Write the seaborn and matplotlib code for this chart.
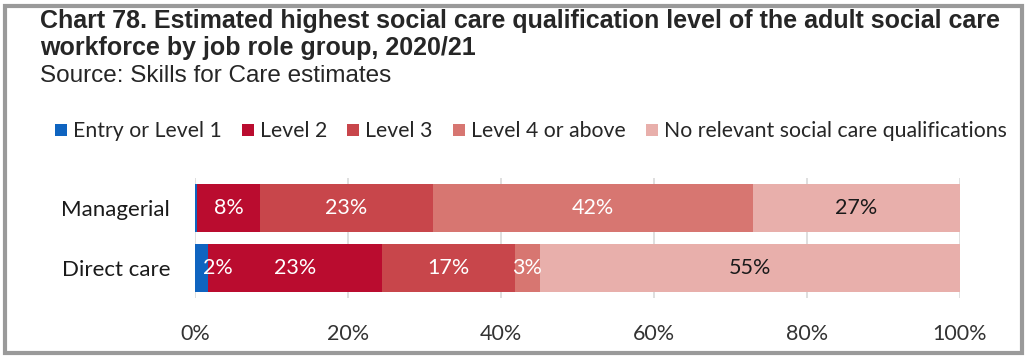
import matplotlib
matplotlib.use("Agg")
import matplotlib.pyplot as plt
import seaborn as sns
import numpy as np
import pandas as pd
from matplotlib.patches import Rectangle
from matplotlib.lines import Line2D

categories = ["Managerial", "Direct care"]
series_names = ["Entry or Level 1", "Level 2", "Level 3", "Level 4 or above",
                "No relevant social care qualifications"]
entry = [0.3, 1.7]
level2 = [8.2, 22.7]
level3 = [22.6, 17.4]
level4 = [41.8, 3.3]
no_qual = [27.1, 54.9]
tick_labels = ["0%", "20%", "40%", "60%", "80%", "100%"]

colors = ["#0F64C0", "#BA0C2F", "#C8464B", "#D77671", "#E8AFAB"]
text_colors = ["white", "white", "white", "white", "#1a1a1a"]

sns.set_theme(style="white")
plt.rcParams["font.family"] = ["Lato", "DejaVu Sans"]

fig = plt.figure(figsize=(10.34, 3.58), dpi=100)
ax = fig.add_axes([195 / 1034, 1 - 298 / 358, 765 / 1034, 120 / 358])

vals = np.array([entry, level2, level3, level4, no_qual])
cum = np.cumsum(vals, axis=0)

# draw from the largest cumulative to smallest so overlaps produce stacking
for i in range(len(series_names) - 1, -1, -1):
    df = pd.DataFrame({"cat": categories, "val": cum[i]})
    sns.barplot(data=df, y="cat", x="val", orient="h", color=colors[i],
                width=0.8, ax=ax, saturation=1, linewidth=0, zorder=3)

for i in range(len(series_names)):
    for j, c in enumerate(categories):
        v = vals[i, j]
        if round(v) < 1:
            continue
        start = cum[i, j] - v
        if v < 3:
            x, ha = start + 1.0, "left"
        else:
            x, ha = start + v / 2, "center"
        ax.text(x, j, f"{round(v):.0f}%", ha=ha, va="center",
                color=text_colors[i], fontsize=15.5, zorder=5)

ax.set_xlim(0, 100)
ax.set_ylim(1.5, -0.5)
ax.set_xticks([0, 20, 40, 60, 80, 100])
ax.set_xticklabels(tick_labels, fontsize=15.5, color="#333333")
ax.tick_params(axis="x", pad=19, length=0)
ax.tick_params(axis="y", length=0, pad=18, labelsize=16, labelcolor="#1a1a1a")
ax.set_xlabel("")
ax.set_ylabel("")
ax.grid(axis="x", color="#d9d9d9", linewidth=1.2, zorder=0)
for s in ax.spines.values():
    s.set_visible(False)
ax.set_axisbelow(True)

handles = [Line2D([0], [0], marker="s", linestyle="", markersize=9,
                  markerfacecolor=colors[i], markeredgewidth=0) for i in range(5)]
fig.legend(handles, series_names, loc="center", bbox_to_anchor=(529 / 1034, 1 - 131 / 358),
           ncol=5, frameon=False, fontsize=15.3, handletextpad=0.1, columnspacing=0.8,
           handlelength=0.9)

fig.text(40 / 1034, 1 - 21 / 358, "Chart 78. Estimated highest social care qualification level of the adult social care",
         fontsize=18, fontweight="bold", family="Liberation Sans", va="center", ha="left")
fig.text(40 / 1034, 1 - 48 / 358, "workforce by job role group, 2020/21",
         fontsize=18, fontweight="bold", family="Liberation Sans", va="center", ha="left")
fig.text(40 / 1034, 1 - 76 / 358, "Source: Skills for Care estimates",
         fontsize=17.5, family="Liberation Sans", va="center", ha="left")

fig.patches.append(Rectangle((5 / 1034, 5 / 358), 1017 / 1034, 347 / 358,
                             transform=fig.transFigure, fill=False,
                             edgecolor="#9a9a9a", linewidth=3))

fig.savefig("out.png", dpi=100)
